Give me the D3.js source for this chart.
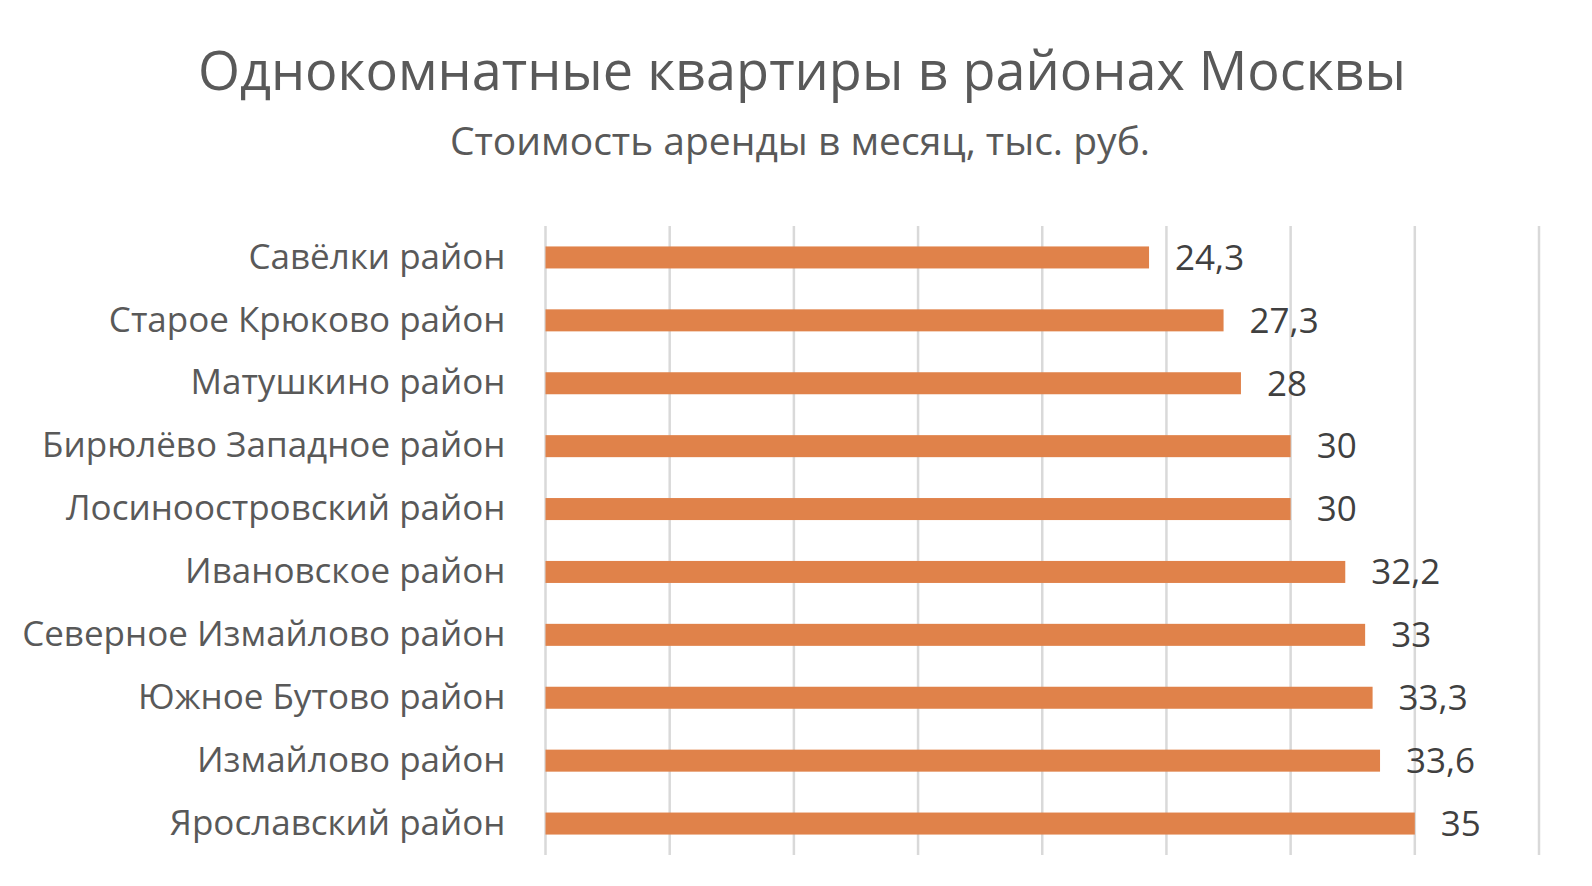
<!DOCTYPE html>
<html><head><meta charset="utf-8">
<script src="https://cdn.jsdelivr.net/npm/d3@7"></script>
<style>body{margin:0;background:#fff}</style>
</head><body>
<svg id="c" width="1592" height="886"></svg>
<script>
const categories = ["Савёлки район","Старое Крюково район","Матушкино район","Бирюлёво Западное район","Лосиноостровский район","Ивановское район","Северное Измайлово район","Южное Бутово район","Измайлово район","Ярославский район"];
const values = [24.3,27.3,28,30,30,32.2,33,33.3,33.6,35];
const valueLabels = ["24,3","27,3","28","30","30","32,2","33","33,3","33,6","35"];
const xTicks = [0,5,10,15,20,25,30,35,40];
const title = "Однокомнатные квартиры в районах Москвы";
const subtitle = "Стоимость аренды в месяц, тыс. руб.";

const svg = d3.select("#c");
const font = "'Open Sans', 'Noto Sans', sans-serif";
const x = d3.scaleLinear().domain([0,40]).range([545.5,1539]);
const y = d3.scaleBand().domain(categories).range([226,855]).paddingInner(0.65).paddingOuter(0.325);

svg.append("text").attr("x",802).attr("y",90).attr("text-anchor","middle")
  .attr("font-family",font).attr("font-size",54).attr("fill","#595959").text(title);
svg.append("text").attr("x",800).attr("y",155).attr("text-anchor","middle")
  .attr("font-family",font).attr("font-size",39).attr("fill","#595959").text(subtitle);

svg.append("g").selectAll("line").data(xTicks).join("line")
  .attr("x1",d=>x(d)).attr("x2",d=>x(d)).attr("y1",226).attr("y2",855)
  .attr("stroke","#d9d9d9").attr("stroke-width",2.5);

const yAxis = svg.append("g").attr("transform","translate(545.5,0)")
  .call(d3.axisLeft(y).tickSize(0).tickPadding(40));
yAxis.select(".domain").remove();
yAxis.selectAll("text").attr("font-family",font).attr("font-size",35).attr("fill","#595959");

svg.append("g").selectAll("rect").data(values).join("rect")
  .attr("x",x(0)).attr("y",(d,i)=>y(categories[i]))
  .attr("width",d=>x(d)-x(0)).attr("height",y.bandwidth()).attr("fill","#e0824a");

svg.append("g").selectAll("text").data(values).join("text")
  .attr("x",d=>x(d)+26).attr("y",(d,i)=>y(categories[i])+y.bandwidth()/2)
  .attr("dy","0.35em").attr("font-family",font).attr("font-size",35).attr("fill","#404040")
  .text((d,i)=>valueLabels[i]);
</script>
</body></html>
